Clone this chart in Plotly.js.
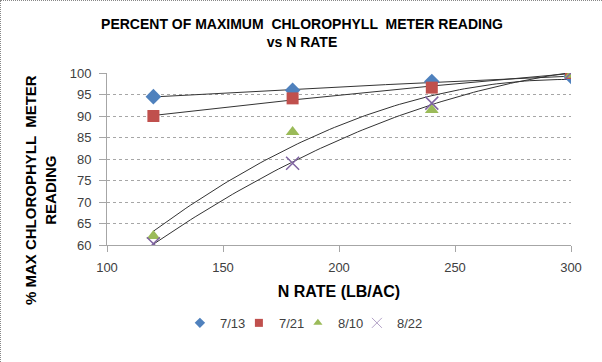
<!DOCTYPE html>
<html><head><meta charset="utf-8">
<script src="https://cdn.plot.ly/plotly-3.0.1.min.js"></script>
<style>html,body{margin:0;padding:0;background:#fff}#c{width:602px;height:362px;box-sizing:border-box;border:1px dotted #888}</style>
</head><body><div id="c"></div>
<script>
const nRate = [120, 180, 240, 300];
const s0713 = [94.5, 96.0, 98.0, 99.2];
const s0721 = [90.0, 94.1, 96.6, 100];
const s0810 = [62.1, 86.3, 91.4, 99.6];
const s0822 = [60.3, 79.0, 93.0, 100];
const seriesNames = ['7/13', '7/21', '8/10', '8/22'];
const colors = ['#4F81BD', '#C0504D', '#9BBB59', '#8064A2'];
const symbols = ['diamond', 'square', 'triangle-up', 'x-thin'];
const allSeries = [s0713, s0721, s0810, s0822];

// 2nd-order polynomial least-squares trendline (spreadsheet-style trendline)
function polyFit(xs, ys) {
  const n = xs.length;
  let S = [0, 0, 0, 0, 0], T = [0, 0, 0];
  for (let i = 0; i < n; i++) {
    for (let k = 0; k < 5; k++) S[k] += Math.pow(xs[i], k);
    for (let k = 0; k < 3; k++) T[k] += ys[i] * Math.pow(xs[i], k);
  }
  const M = [[S[0], S[1], S[2], T[0]], [S[1], S[2], S[3], T[1]], [S[2], S[3], S[4], T[2]]];
  for (let c = 0; c < 3; c++) {
    for (let r = c + 1; r < 3; r++) {
      const f = M[r][c] / M[c][c];
      for (let k = c; k < 4; k++) M[r][k] -= f * M[c][k];
    }
  }
  const b = [0, 0, 0];
  for (let r = 2; r >= 0; r--) {
    let s = M[r][3];
    for (let k = r + 1; k < 3; k++) s -= M[r][k] * b[k];
    b[r] = s / M[r][r];
  }
  const tx = [], ty = [];
  for (let x = xs[0]; x <= xs[n - 1] + 1e-9; x += 2) { tx.push(x); ty.push(b[0] + b[1] * x + b[2] * x * x); }
  return {x: tx, y: ty};
}

const traces = [];
allSeries.forEach((s) => {
  const f = polyFit(nRate, s);
  traces.push({x: f.x, y: f.y, mode: 'lines', line: {color: '#333', width: 1}, showlegend: false, hoverinfo: 'skip'});
});
allSeries.forEach((s, i) => {
  const mk = {color: colors[i], size: i === 3 ? 13 : 12, symbol: symbols[i]};
  if (i === 3) mk.line = {color: colors[i], width: 1.5};
  traces.push({x: nRate, y: s, name: seriesNames[i], mode: 'markers', marker: mk, showlegend: false});
});
// legend entries (smaller symbols, as in the reference legend)
allSeries.forEach((s, i) => {
  const mk = {color: colors[i], size: i === 3 ? 10 : 8, symbol: symbols[i]};
  if (i === 3) mk.line = {color: '#B3A2C7', width: 1};
  traces.push({x: [null], y: [null], name: seriesNames[i], mode: 'markers', marker: mk, showlegend: true});
});
// invisible spacer entry so the last legend label is not clipped
traces.push({x: [null], y: [null], name: ' ', mode: 'markers',
             marker: {color: 'rgba(0,0,0,0)', opacity: 0, size: 1, line: {width: 0, color: 'rgba(0,0,0,0)'}}, showlegend: true});

const layout = {
  width: 602, height: 362,
  margin: {l: 106, r: 32, t: 72, b: 118},
  paper_bgcolor: '#fff', plot_bgcolor: '#fff',
  font: {family: 'Liberation Sans, Arial, sans-serif', color: '#000'},
  title: {text: '<b>PERCENT OF MAXIMUM  CHLOROPHYLL  METER READING<br>vs N RATE</b>',
          font: {size: 14, family: 'Liberation Sans, Arial, sans-serif'}, x: 0.5, xanchor: 'center',
          y: 0.924, yanchor: 'middle', yref: 'container'},
  xaxis: {range: [100, 300], tickvals: [100, 150, 200, 250, 300], showgrid: false, zeroline: false,
          showline: true, linecolor: '#a6a6a6', ticks: 'outside', ticklen: 6, tickcolor: '#a6a6a6',
          ticklabelstandoff: 4,
          tickfont: {size: 13, color: '#404040', family: 'Liberation Sans, Arial'},
          title: {text: '<b>N RATE (LB/AC)</b>', font: {size: 16}, standoff: 12}},
  yaxis: {range: [60, 100], dtick: 5, showgrid: true, gridcolor: '#a6a6a6', griddash: 'dot', gridwidth: 1,
          zeroline: false, showline: true, linecolor: '#a6a6a6', ticks: 'outside', ticklen: 7, tickcolor: '#a6a6a6',
          ticklabelstandoff: 5,
          tickfont: {size: 13, color: '#404040', family: 'Liberation Sans, Arial'}},
  annotations: [{text: '<b>% MAX CHLOROPHYLL  METER<br>READING</b>', textangle: -90, showarrow: false,
                 xref: 'paper', yref: 'paper', x: -0.142, y: 0.32, xanchor: 'center', yanchor: 'middle',
                 font: {size: 15, color: '#000'}}],
  legend: {orientation: 'h', x: 0.475, xanchor: 'center', y: -0.453, yanchor: 'middle',
           entrywidth: 14, itemwidth: 30,
           font: {size: 13, color: '#404040'}, bgcolor: 'rgba(0,0,0,0)'},
  showlegend: true
};
Plotly.newPlot('c', traces, layout, {staticPlot: true, displayModeBar: false});
</script></body></html>
